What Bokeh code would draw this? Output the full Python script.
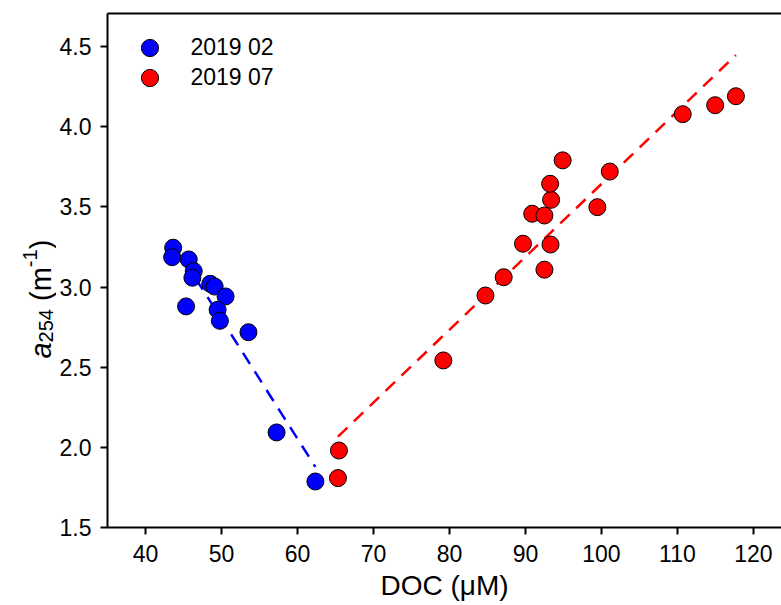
import numpy as np
from bokeh.plotting import figure
from bokeh.layouts import row
from bokeh.models import (Range1d, LinearAxis, FixedTicker, Legend, LegendItem,
                          NumeralTickFormatter, Label)
from bokeh.embed import file_html
from bokeh.resources import INLINE

# ---- data ----
feb_doc = [43.64, 43.51, 45.69, 46.35, 46.17, 45.34, 48.52, 49.10, 50.54, 49.49, 49.79, 53.55, 57.25, 62.36]
feb_a254 = [3.245, 3.186, 3.172, 3.099, 3.058, 2.879, 3.020, 3.003, 2.941, 2.858, 2.789, 2.718, 2.093, 1.787]

jul_doc = [65.46, 65.33, 79.20, 84.74, 87.14, 89.68, 93.30, 92.50, 90.89, 92.50, 93.38, 93.25, 94.90,
           99.47, 101.10, 110.70, 114.97, 117.70]
jul_a254 = [1.980, 1.808, 2.542, 2.947, 3.061, 3.270, 3.265, 3.108, 3.457, 3.446, 3.544, 3.644, 3.790,
            3.498, 3.720, 4.078, 4.134, 4.190]

series_labels = ["2019 02", "2019 07"]
x_ticks = [40, 50, 60, 70, 80, 90, 100, 110, 120]
y_ticks = [1.5, 2.0, 2.5, 3.0, 3.5, 4.0, 4.5]
x_title = "DOC (\u03bcM)"
y_title_parts = ["a", "254", "(m", "-1", ")"]

FONT = "Liberation Sans"
TOP, BOTTOM = 13, 78
H = 605
LEFT_W = 56

yr = Range1d(1.5, 4.706)

p = figure(width=781 - LEFT_W, height=H, x_range=Range1d(35, 123.7), y_range=yr,
           output_backend="svg", toolbar_location=None,
           min_border_left=104 - LEFT_W, min_border_right=0, min_border_top=TOP,
           min_border_bottom=BOTTOM)
p.grid.visible = False
p.outline_line_color = None

for ax in (p.xaxis, p.yaxis):
    ax.axis_line_width = 2
    ax.axis_line_color = "black"
    ax.major_tick_line_width = 2
    ax.major_tick_line_color = "black"
    ax.major_tick_out = 7
    ax.major_tick_in = 0
    ax.minor_tick_out = 0
    ax.minor_tick_in = 0
    ax.major_label_text_font = FONT
    ax.major_label_text_font_size = "23px"
    ax.major_label_text_color = "black"

p.xaxis.ticker = FixedTicker(ticks=x_ticks)
p.yaxis.ticker = FixedTicker(ticks=y_ticks)
p.yaxis.formatter = NumeralTickFormatter(format="0.0")
p.xaxis.major_label_standoff = 10
p.yaxis.major_label_standoff = 9
p.xaxis.axis_label = x_title
p.xaxis.axis_label_text_font = FONT
p.xaxis.axis_label_text_font_size = "28px"
p.xaxis.axis_label_text_font_style = "normal"
p.xaxis.axis_label_text_color = "black"
p.xaxis.axis_label_standoff = 5

top = LinearAxis(ticker=FixedTicker(ticks=[]), axis_line_width=2, axis_line_color="black",
                 major_tick_out=0, major_tick_in=0, minor_tick_out=0, minor_tick_in=0,
                 major_label_text_font_size="0px", major_label_standoff=0)
p.add_layout(top, "above")

# ---- regression lines, computed from the data ----
for xs, ys, col in ((feb_doc, feb_a254, "blue"), (jul_doc, jul_a254, "red")):
    k, b = np.polyfit(xs, ys, 1)
    lx = np.array([min(xs), max(xs)])
    p.line(lx, k * lx + b, line_color=col, line_width=2.5, line_dash="13 9")

r1 = p.scatter(feb_doc, feb_a254, size=17, fill_color="blue", line_color="black", line_width=1)
r2 = p.scatter(jul_doc, jul_a254, size=17, fill_color="red", line_color="black", line_width=1)

for lab, rend, loc in ((series_labels[0], r1, (20.5, 458.5)), (series_labels[1], r2, (20.5, 428.5))):
    lg = Legend(items=[LegendItem(label=lab, renderers=[rend])],
                location=loc, glyph_width=43, glyph_height=43,
                padding=0, margin=0, label_standoff=20, border_line_color=None,
                background_fill_alpha=0, label_text_font=FONT, label_text_font_size="23px",
                label_text_color="black", label_height=20)
    p.add_layout(lg)

# ---- y-axis title a_254 (m^-1) in a narrow side panel ----
lf = figure(width=LEFT_W, height=H, x_range=Range1d(0, LEFT_W), y_range=yr,
            output_backend="svg", toolbar_location=None, x_axis_location=None,
            y_axis_location=None, min_border_left=0, min_border_right=0,
            min_border_top=TOP, min_border_bottom=BOTTOM)
lf.grid.visible = False
lf.outline_line_color = None

px_per_unit = (H - TOP - BOTTOM) / (yr.end - yr.start)
big, small = 29, 20
sizes = [big, small, big, small, big]
styles = ["italic", "normal", "normal", "normal", "normal"]
shifts = [0, 5, 0, -11, 0]
gaps_before = [0, 0, 0.278 * big, 0, 0]
em_w = [0.556, 3 * 0.556, 0.333 + 0.833, 0.333 + 0.556, 0.333]
start_y = 1.5 + (527 - 358) / px_per_unit
baseline_x = 40
cum = 0.0
for txt, sz, st, dx, gap, w in zip(y_title_parts, sizes, styles, shifts, gaps_before, em_w):
    cum += gap + w * sz
    # anchored at the upper end of each piece, text running upward (right-aligned)
    lf.add_layout(Label(x=baseline_x + dx, y=start_y + cum / px_per_unit, text=txt, angle=np.pi / 2,
                        text_font=FONT, text_font_size=f"{sz}px", text_font_style=st,
                        text_color="black", text_align="right", text_baseline="alphabetic"))

layout = row(lf, p)
open("out.html", "w").write(file_html(layout, INLINE))
